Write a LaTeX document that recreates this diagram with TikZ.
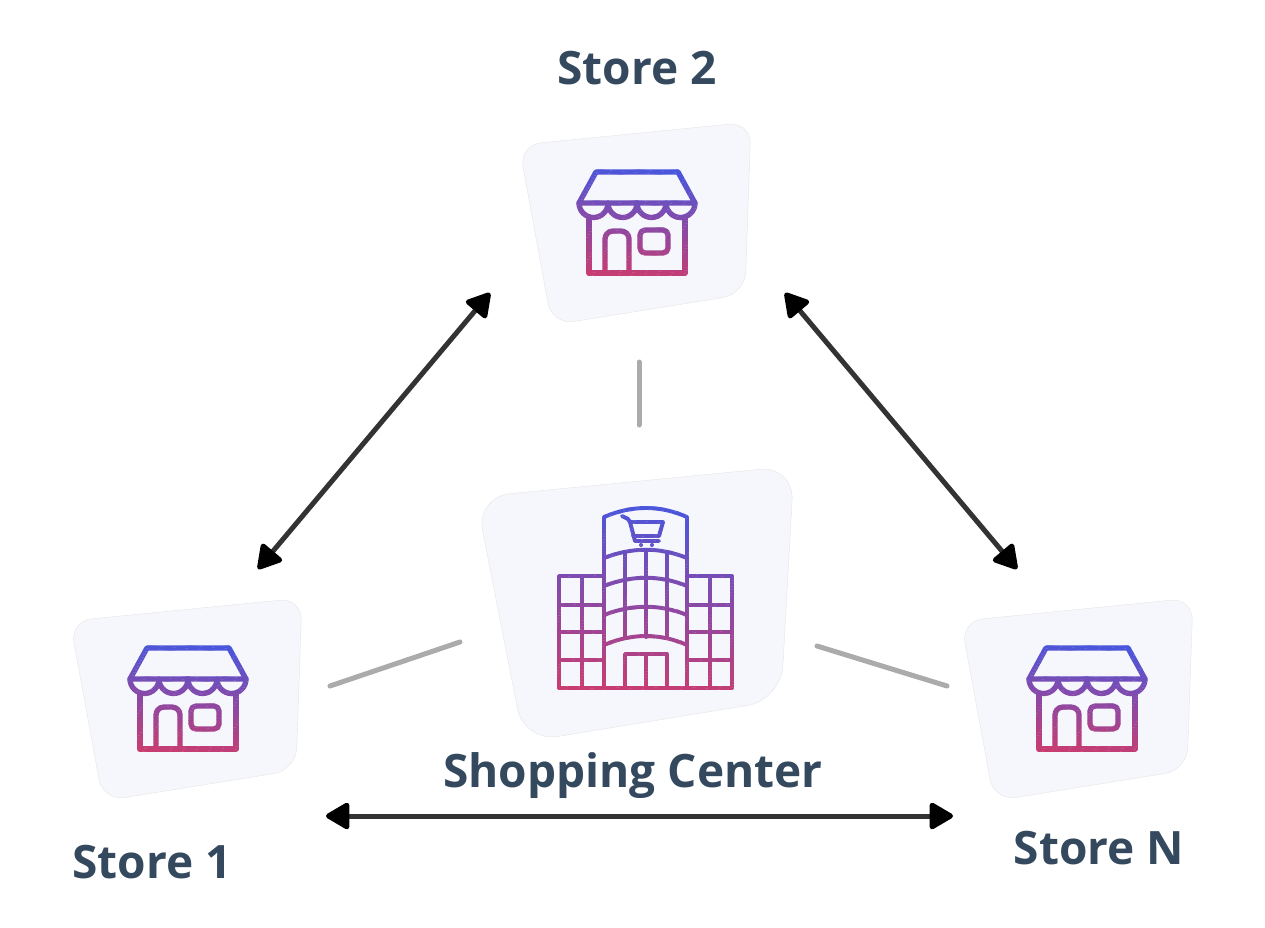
\documentclass[tikz,border=0pt]{standalone}
\usepackage{fontspec}
\setmainfont{Open Sans}
\usetikzlibrary{arrows.meta}
\definecolor{cardfill}{HTML}{F6F7FC}
\definecolor{labelcol}{HTML}{34495E}
\definecolor{iconblue}{HTML}{4557E0}
\definecolor{iconpink}{HTML}{CC3C6E}
\definecolor{linkgrey}{HTML}{ABABAB}
\definecolor{arrowcol}{HTML}{333333}
\tikzset{
    card/.style={fill=cardfill, draw=black!10, line width=0.4pt},
    lbl/.style={text=labelcol, font=\fontsize{46}{50}\selectfont\bfseries, inner sep=0pt},
    link/.style={linkgrey, line width=5pt, line cap=round},
    duplex/.style={arrowcol, line width=5pt,
        {Triangle[length=26pt,width=29pt,round,fill=black,color=black]}-{Triangle[length=26pt,width=29pt,round,fill=black,color=black]}},
}
% Winkel-icoon, rond de oorsprong
\newcommand{\storeshape}{
    \begin{scope}[line width=5.3pt, line join=round, line cap=round]
    \draw (-41,-51) -- (41,-51) -- (58,-20) -- (-58,-20) -- cycle;
    \draw (-58,-20) arc[start angle=180,end angle=0,radius=14.5]
        arc[start angle=180,end angle=0,radius=14.5]
        arc[start angle=180,end angle=0,radius=14.5]
        arc[start angle=180,end angle=0,radius=14.5];
    \draw (-48,-6) -- (-48,50) -- (48,50) -- (48,-6);
    \draw[rounded corners=8pt] (-32,50) -- (-32,8) -- (-8,8) -- (-8,50);
    \draw[rounded corners=5pt] (3,7) rectangle (31,30);
    \end{scope}
}
% Winkelcentrum-icoon
\newcommand{\mallshape}{
    \begin{scope}[line width=3.9pt, line join=round, line cap=round]
    % Toren
    \draw (604,688) -- (604,517) .. controls (632,505) and (660,505) .. (687,517) -- (687,688);
    \draw (604,558) .. controls (632,547) and (660,547) .. (687,558);
    \draw (604,586) .. controls (632,575) and (660,575) .. (687,586);
    \draw (604,615) .. controls (632,604) and (660,604) .. (687,615);
    \draw (604,645) .. controls (632,633) and (660,633) .. (687,645);
    \foreach \xpos in {625,646,667} {
        \draw (\xpos,552) -- (\xpos,637);
    }
    % Vleugels
    \draw (604,576) -- (559,576) -- (559,688) -- (732,688) -- (732,576) -- (687,576);
    \foreach \ypos in {605,632,660} {
        \draw (559,\ypos) -- (604,\ypos);
        \draw (687,\ypos) -- (732,\ypos);
    }
    \draw (582,576) -- (582,688);
    \draw (710,576) -- (710,688);
    % Deur
    \draw (625,688) -- (625,654) -- (667,654) -- (667,688);
    \draw (646,654) -- (646,688);
    % Winkelwagen
    \draw (622,516) -- (628,519) -- (630,522) -- (663,522) -- (659,536) -- (633,536);
    \draw (630,522) -- (635,541) -- (659,541);
    \fill (641,545) circle (2pt);
    \fill (652,545) circle (2pt);
    \end{scope}
}
% Kleurverloop in schuine stroken: #1,#2 = x-bereik, #3,#4 = y-bereik, #5 = stroken, #6 = vorm
\newcommand{\stripfill}[6]{
    \foreach \stripno in {1,...,#5} {
        \pgfmathsetmacro{\stripy}{#3+(\stripno-1)*(#4-#3)/#5}
        \pgfmathsetmacro{\stripb}{\stripy+(#4-#3)/#5+0.3}
        \pgfmathsetmacro{\striptilt}{0.08*(#2-#1)}
        \pgfmathtruncatemacro{\strippct}{100*(\stripno-1)/(#5-1)}
        \colorlet{stripcol}{iconpink!\strippct!iconblue}
        \begin{scope}
        \clip (#1,\stripy-\striptilt) -- (#2,\stripy) -- (#2,\stripb) -- (#1,\stripb-\striptilt) -- cycle;
        \begin{scope}[color=stripcol]
        #6
        \end{scope}
        \end{scope}
    }
}
% Kaart en icoon van een winkel: #1 = kaart x, #2 = icoon x, #3 = midden y
\newcommand{\storecard}[3]{
    \draw[card, rounded corners=22pt] (#1-118,#3-78) -- (#1+114,#3-101) -- (#1+108,#3+71) -- (#1-85,#3+102) -- cycle;
    \begin{scope}[shift={(#2,#3)}]
    \stripfill{-62}{62}{-55}{64}{38}{\storeshape}
    \end{scope}
}

\begin{document}
\begin{tikzpicture}[x=1pt, y=-1pt]
    \useasboundingbox (0,0) rectangle (1265,928);
    % Kaarten
    \storecard{637}{637}{223}
    \storecard{188}{188}{699}
    \storecard{1079}{1087}{699}
    \draw[card, rounded corners=34pt] (476,497) -- (794,466) -- (781,700) -- (524,742) -- cycle;
    \stripfill{555}{736}{504}{706}{66}{\mallshape}
    % Labels
    \node[lbl] (store2) at (637,68) {Store 2};
    \node[lbl] (store1) at (152,862) {Store 1};
    \node[lbl] (storeN) at (1099,848) {Store N};
    \node[lbl] (center) at (633,776) {Shopping Center};
    % Eindpunten
    \coordinate (s2sw) at (490,293);
    \coordinate (s1ne) at (258,569);
    \coordinate (s2se) at (785,293);
    \coordinate (sNnw) at (1017,569);
    \coordinate (s1e) at (326,816);
    \coordinate (sNw) at (953,816);
    \coordinate (s2lo) at (639,362);
    \coordinate (mallup) at (639,425);
    \coordinate (s1ri) at (330,686);
    \coordinate (mallw) at (460,642);
    \coordinate (malle) at (817,646);
    \coordinate (sNle) at (947,686);
    % Pijlen
    \draw[duplex] (s2sw) -- (s1ne);
    \draw[duplex] (s2se) -- (sNnw);
    \draw[duplex] (s1e) -- (sNw);
    % Grijze lijnen
    \draw[link] (s2lo) -- (mallup);
    \draw[link] (s1ri) -- (mallw);
    \draw[link] (malle) -- (sNle);
\end{tikzpicture}
\end{document}
